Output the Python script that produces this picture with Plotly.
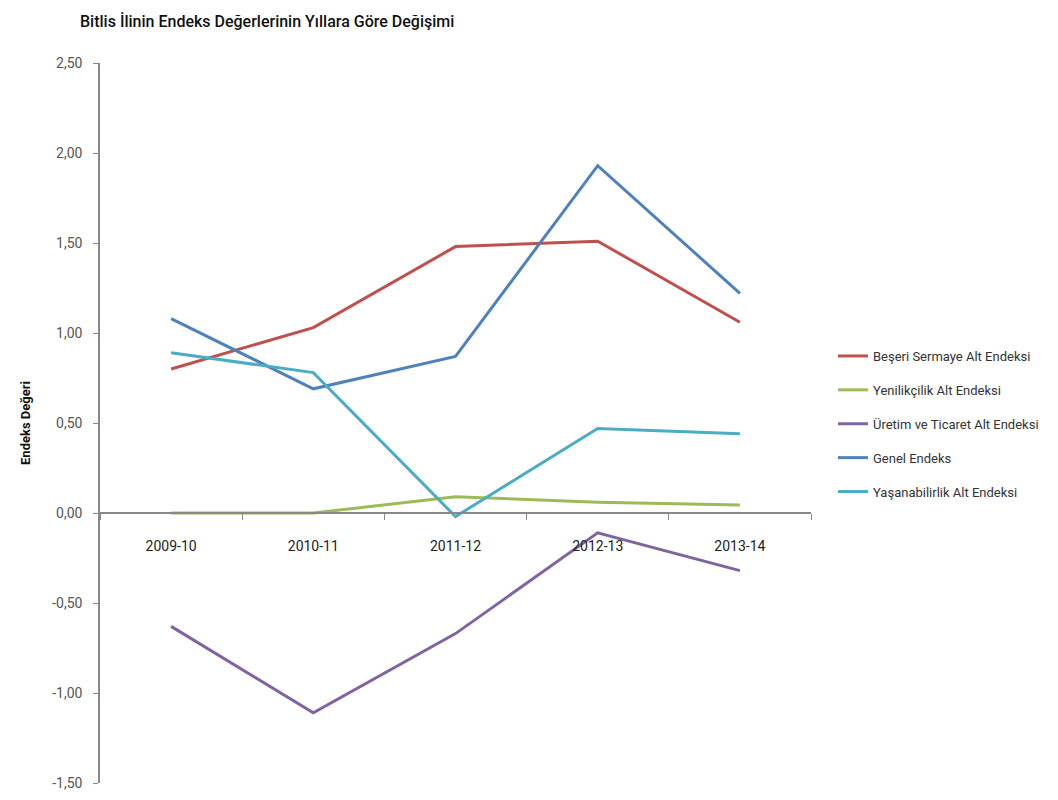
import plotly.graph_objects as go

categories = ["2009-10", "2010-11", "2011-12", "2012-13", "2013-14"]

beseri = [0.80, 1.03, 1.48, 1.51, 1.06]
yenilikcilik = [0.00, 0.00, 0.09, 0.06, 0.045]
uretim = [-0.63, -1.11, -0.67, -0.11, -0.32]
genel = [1.08, 0.69, 0.87, 1.93, 1.22]
yasanabilirlik = [0.89, 0.78, -0.02, 0.47, 0.44]

series_names = [
    "Beşeri Sermaye Alt Endeksi",
    "Yenilikçilik Alt Endeksi",
    "Üretim ve Ticaret Alt Endeksi",
    "Genel Endeks",
    "Yaşanabilirlik Alt Endeksi",
]
series_values = [beseri, yenilikcilik, uretim, genel, yasanabilirlik]
series_colors = ["#C0504D", "#9BBB59", "#8064A2", "#4F81BD", "#4BACC6"]

y_ticks = [2.5, 2.0, 1.5, 1.0, 0.5, 0.0, -0.5, -1.0, -1.5]
y_ticktext = ["2,50", "2,00", "1,50", "1,00", "0,50", "0,00", "-0,50", "-1,00", "-1,50"]

fig = go.Figure()
for i, (name, vals, col) in enumerate(zip(series_names, series_values, series_colors)):
    fig.add_trace(go.Scatter(
        x=categories, y=vals, name=name, mode="lines",
        line=dict(color=col, width=3),
        legendgroup=f"g{i}",
    ))

fig.update_layout(
    width=1058, height=800,
    margin=dict(l=92, r=255, t=55, b=25, autoexpand=False),
    paper_bgcolor="white", plot_bgcolor="white",
    font=dict(family="Roboto", size=12, color="#444444"),
    title=dict(
        text="Bitlis İlinin Endeks Değerlerinin Yıllara Göre Değişimi",
        x=72 / 1058, xanchor="left", y=1 - 13 / 800, yanchor="middle",
        font=dict(family="Roboto", size=16, color="#111111", weight=500),
    ),
    showlegend=True,
    legend=dict(
        x=825 / 1058, xanchor="left", y=1 - 333 / 800, yanchor="top",
        xref="container", yref="container",
        font=dict(family="Roboto", size=13, color="#333333"),
        tracegroupgap=14,
        itemwidth=30,
        bgcolor="rgba(0,0,0,0)",
    ),
    xaxis=dict(
        type="category",
        range=[-0.5, 4.5],
        anchor="free", position=0.375,
        showline=True, linecolor="#888888", linewidth=1.5,
        ticks="outside", tickson="boundaries", ticklen=6, tickcolor="#888888",
        showgrid=False, zeroline=False,
        ticklabelstandoff=20,
        automargin=False,
        tickfont=dict(family="Roboto", size=14, color="#222222"),
    ),
    yaxis=dict(
        range=[-1.5, 2.5],
        tickvals=y_ticks, ticktext=y_ticktext,
        showline=True, linecolor="#888888", linewidth=1.5,
        ticks="outside", ticklen=5, tickcolor="#888888",
        showgrid=False, zeroline=False,
        automargin=False,
        tickfont=dict(family="Roboto", size=14, color="#555555"),
        ticklabelstandoff=8,
        title=dict(text="<b>Endeks Değeri</b>", standoff=19,
                   font=dict(family="Roboto", size=13, color="#111111")),
    ),
)

fig.write_html("out.html")
